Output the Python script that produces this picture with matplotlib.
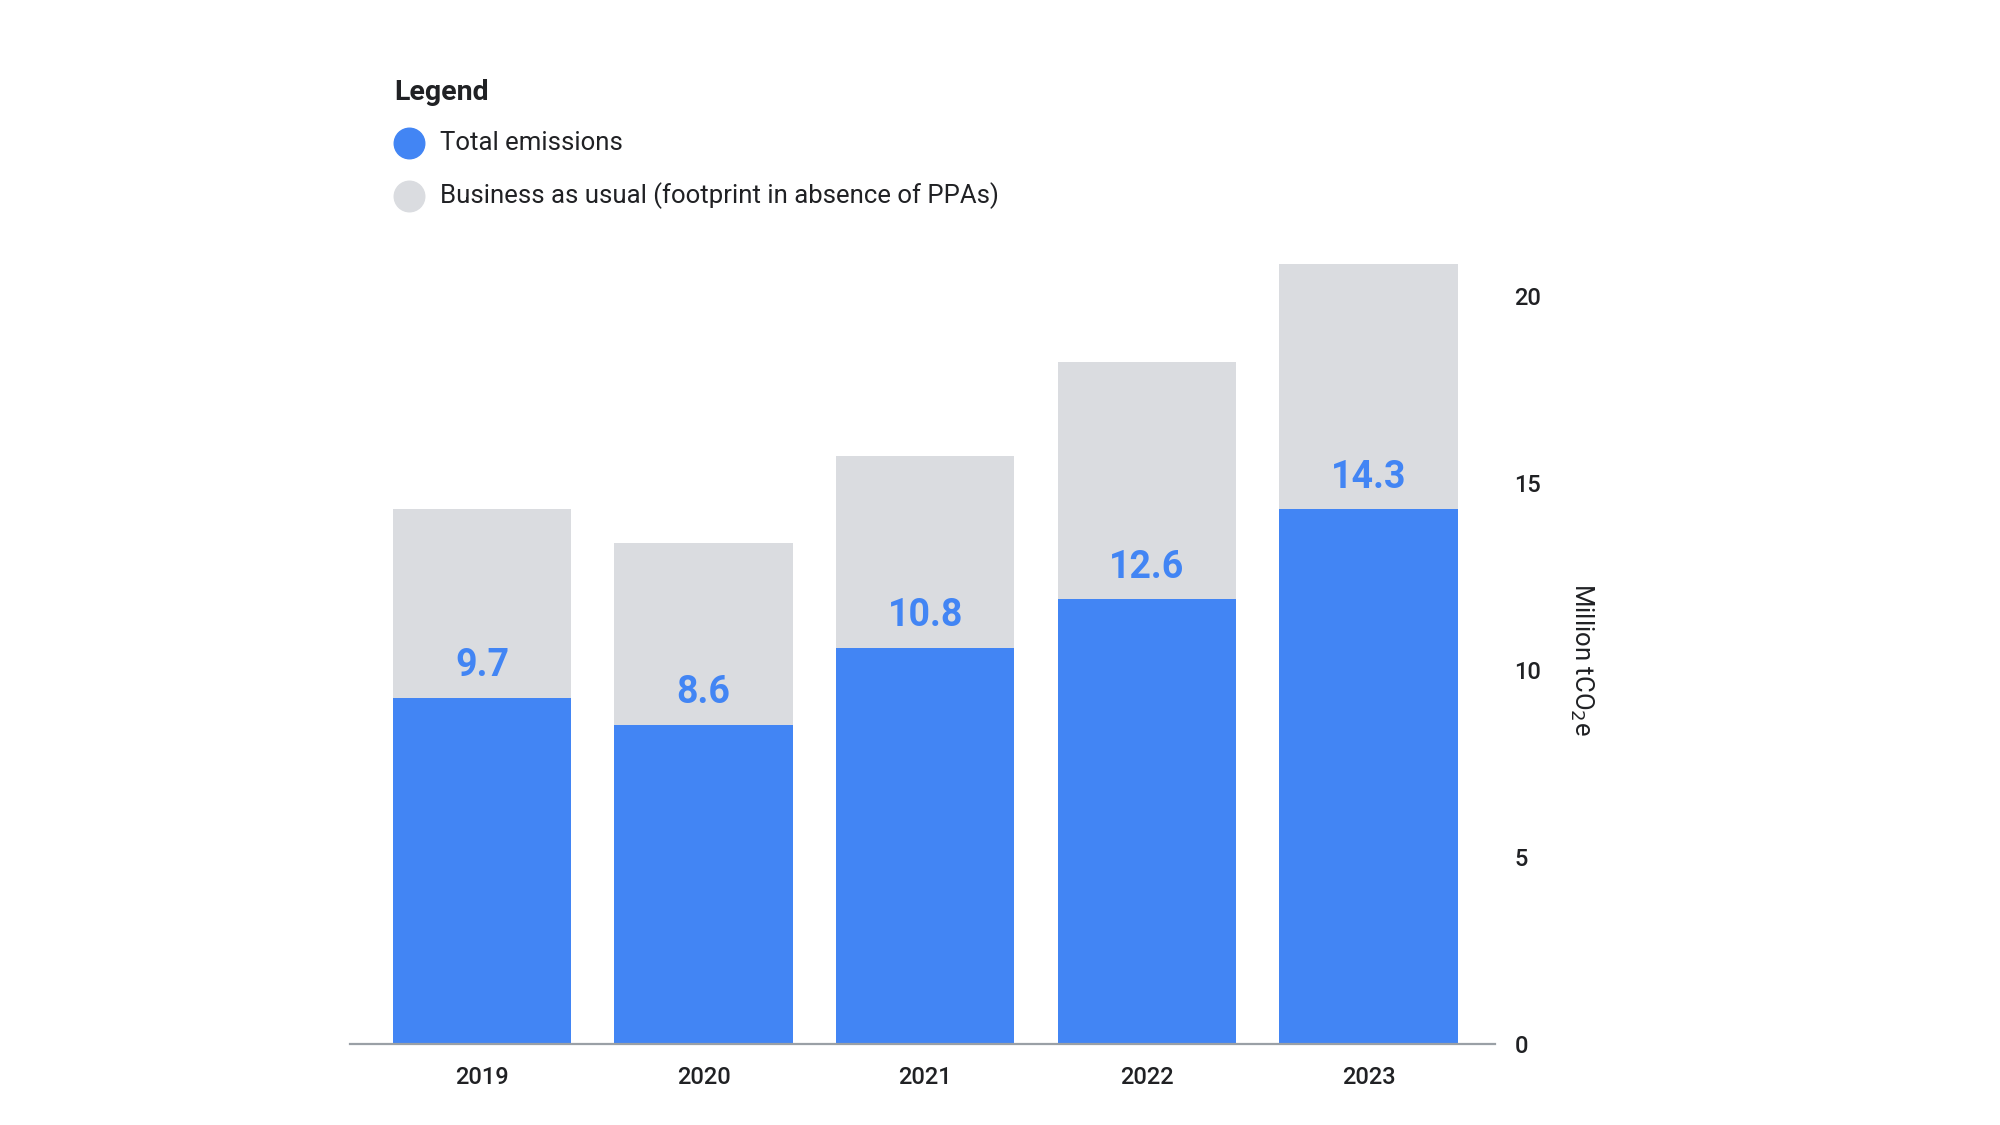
"""
Emissions vs business-as-usual bar chart.

Draws total emissions per year in front of the footprint that would
have occurred without PPAs, with a right-hand y axis.
"""
import matplotlib.pyplot as plt
from matplotlib.lines import Line2D

YEARS = ["2019", "2020", "2021", "2022", "2023"]
# labelled total emissions (Million tCO2e)
TOTAL_LABELS = [9.7, 8.6, 10.8, 12.6, 14.3]
# blue bar heights as drawn in the source chart
TOTAL_HEIGHTS = [9.26, 8.54, 10.60, 11.89, 14.30]
# business as usual (footprint in absence of PPAs)
BAU_HEIGHTS = [14.30, 13.41, 15.72, 18.23, 20.86]
Y_TICKS = [0, 5, 10, 15, 20]

BLUE = "#4285F4"
GRAY = "#DADCE0"
TEXT = "#202124"
FONT = "Roboto"


def main():
    plt.rcParams["font.family"] = [FONT, "DejaVu Sans"]
    fig = plt.figure(figsize=(20, 11.25), dpi=100)
    ax = fig.add_axes([0.175, 0.072, 0.5725, 0.7147])

    x = list(range(len(YEARS)))
    ax.bar(x, BAU_HEIGHTS, width=0.805, color=GRAY, zorder=1)
    ax.bar(x, TOTAL_HEIGHTS, width=0.805, color=BLUE, zorder=2)

    for xi, h, lab in zip(x, TOTAL_HEIGHTS, TOTAL_LABELS):
        ax.annotate(f"{lab}", (xi, h), xytext=(0, 23), textcoords="offset points",
                    ha="center", va="center", fontsize=27, fontweight="semibold",
                    color=BLUE, zorder=3)

    ax.set_xlim(-0.595, 4.57)
    ax.set_ylim(0, 21.5)
    ax.set_xticks(x, YEARS)
    ax.yaxis.tick_right()
    ax.set_yticks(Y_TICKS)
    ax.tick_params(axis="both", length=0, labelsize=17, labelcolor=TEXT)
    ax.tick_params(axis="x", pad=16)
    ax.tick_params(axis="y", pad=14)
    for lbl in ax.get_xticklabels() + ax.get_yticklabels():
        lbl.set_fontweight("medium")

    for side in ["top", "left", "right"]:
        ax.spines[side].set_visible(False)
    ax.spines["bottom"].set_color("#9AA0A6")
    ax.spines["bottom"].set_linewidth(1.6)

    fig.text(0.791, 0.414, "Million tCO$_2$e", rotation=270, ha="center",
             va="center", fontsize=18.5, color=TEXT)

    # legend drawn by hand at top-left
    fig.text(0.197, 0.918, "Legend", fontsize=20.5, fontweight="bold",
             color=TEXT, va="center")
    entries = [(BLUE, "Total emissions", 0.873),
               (GRAY, "Business as usual (footprint in absence of PPAs)", 0.826)]
    for color, label, y in entries:
        fig.add_artist(Line2D([0.2045], [y], marker="o", markersize=22,
                              color=color, linestyle="none",
                              transform=fig.transFigure))
        fig.text(0.22, y, label, fontsize=18.5, color=TEXT, va="center")

    fig.savefig("out.png", dpi=100, facecolor="white")


if __name__ == "__main__":
    main()
